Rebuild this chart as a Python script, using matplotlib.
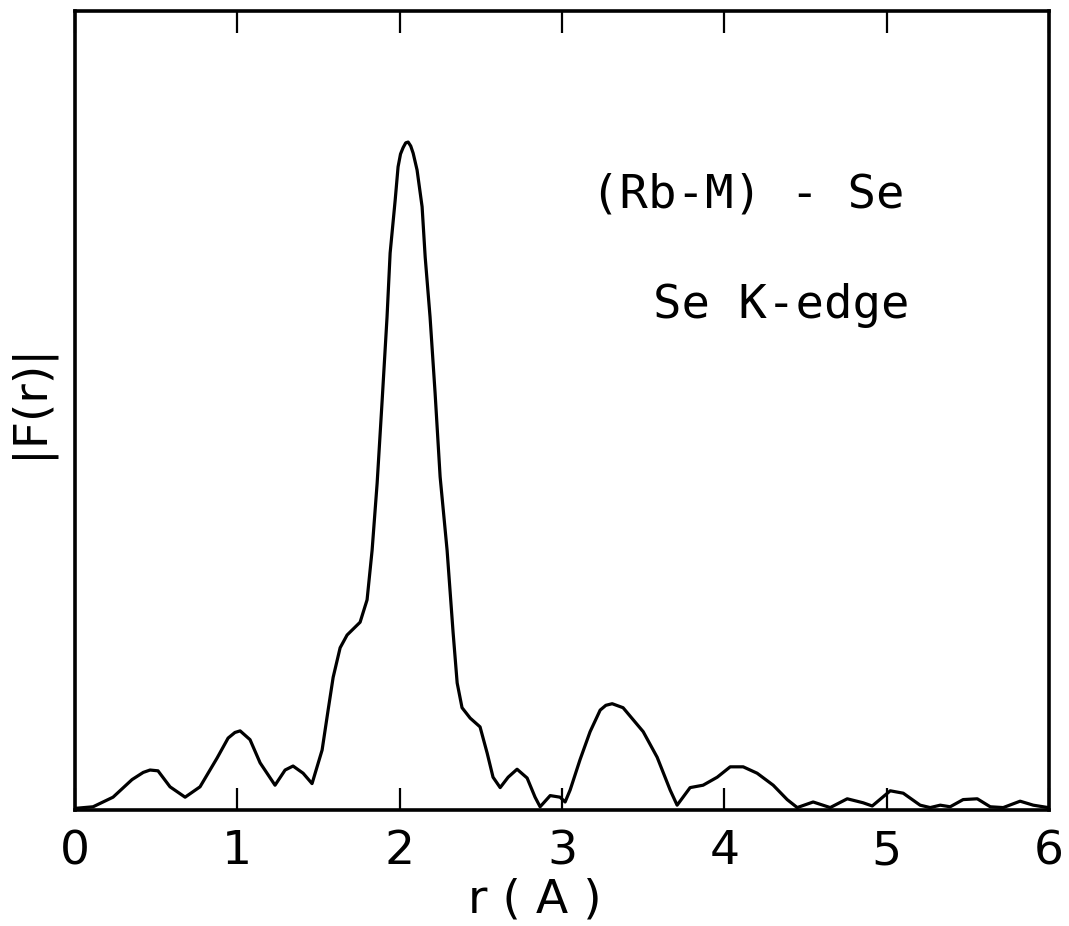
import matplotlib
matplotlib.use("Agg")
import matplotlib.pyplot as plt

# Digitised |F(r)| curve (r in Angstrom, magnitude in arbitrary units, full scale = 1)
r_vals = [0.00, 0.111, 0.234, 0.351, 0.420, 0.462, 0.511, 0.585, 0.678, 0.770, 0.875,
          0.943, 0.985, 1.017, 1.078, 1.140, 1.232, 1.294, 1.343, 1.405, 1.460, 1.522,
          1.559, 1.590, 1.633, 1.676, 1.756, 1.799, 1.830, 1.861, 1.892, 1.922,
          1.941, 1.972, 1.990, 2.005, 2.021, 2.037, 2.052, 2.068, 2.083, 2.107, 2.138,
          2.157, 2.187, 2.218, 2.249, 2.292, 2.329, 2.354, 2.384, 2.434, 2.495, 2.539,
          2.575, 2.619, 2.668, 2.723, 2.785, 2.834, 2.865, 2.927, 2.988, 3.019, 3.050,
          3.111, 3.173, 3.235, 3.270, 3.309, 3.376, 3.500, 3.586, 3.666, 3.709, 3.789,
          3.869, 3.956, 4.036, 4.116, 4.202, 4.301, 4.387, 4.449, 4.547, 4.652,
          4.757, 4.855, 4.911, 5.022, 5.102, 5.206, 5.268, 5.330, 5.391, 5.471,
          5.558, 5.638, 5.718, 5.822, 5.903, 5.995]
f_vals = [0.002, 0.004, 0.016, 0.038, 0.047, 0.050, 0.049, 0.029, 0.016, 0.029, 0.065,
          0.090, 0.097, 0.099, 0.088, 0.059, 0.031, 0.050, 0.055, 0.046, 0.033, 0.075,
          0.125, 0.166, 0.203, 0.219, 0.235, 0.263, 0.325, 0.409, 0.513, 0.617,
          0.697, 0.763, 0.805, 0.821, 0.829, 0.835, 0.836, 0.831, 0.822, 0.801, 0.755,
          0.692, 0.617, 0.522, 0.417, 0.325, 0.222, 0.159, 0.128, 0.115, 0.104, 0.071,
          0.041, 0.028, 0.041, 0.051, 0.040, 0.016, 0.004, 0.018, 0.016, 0.010, 0.025,
          0.063, 0.098, 0.125, 0.131, 0.133, 0.128, 0.098, 0.066, 0.025, 0.006, 0.028,
          0.031, 0.041, 0.054, 0.054, 0.046, 0.031, 0.013, 0.003, 0.010, 0.003,
          0.014, 0.009, 0.005, 0.024, 0.021, 0.006, 0.003, 0.006, 0.004, 0.013,
          0.014, 0.004, 0.003, 0.011, 0.006, 0.003]

x_ticks = [0, 1, 2, 3, 4, 5, 6]
x_tick_labels = ["0", "1", "2", "3", "4", "5", "6"]

fig = plt.figure(figsize=(10.69, 9.26), dpi=100)
ax = fig.add_axes([0.0702, 0.1253, 0.9111, 0.8628])

ax.plot(r_vals, f_vals, color="black", linewidth=2.3,
        solid_joinstyle="round", solid_capstyle="round")

ax.set_xlim(0, 6)
ax.set_ylim(0, 1)

for s in ax.spines.values():
    s.set_linewidth(2.6)

ax.set_xticks(x_ticks)
ax.set_xticklabels(x_tick_labels, fontsize=34, family="DejaVu Sans")
ax.set_yticks([])
ax.tick_params(axis="x", which="major", direction="in", length=16, width=1.6,
               pad=14, top=True, bottom=True)

ax.set_xlabel("r ( A )", fontsize=34, family="DejaVu Sans")
ax.xaxis.set_label_coords(0.472, -0.085)
ax.xaxis.label.set_va("top")

ax.set_ylabel("|F(r)|", fontsize=34, family="DejaVu Sans")
ax.yaxis.set_label_coords(-0.047, 0.512)
ax.yaxis.label.set_va("center")
ax.yaxis.label.set_ha("center")

ax.text(0.852, 0.770, "(Rb-M) - Se", transform=ax.transAxes, ha="right",
        va="center", fontsize=34, family="DejaVu Sans Mono")
ax.text(0.857, 0.632, "Se K-edge", transform=ax.transAxes, ha="right",
        va="center", fontsize=34, family="DejaVu Sans Mono")

fig.savefig("out.png", dpi=100)
